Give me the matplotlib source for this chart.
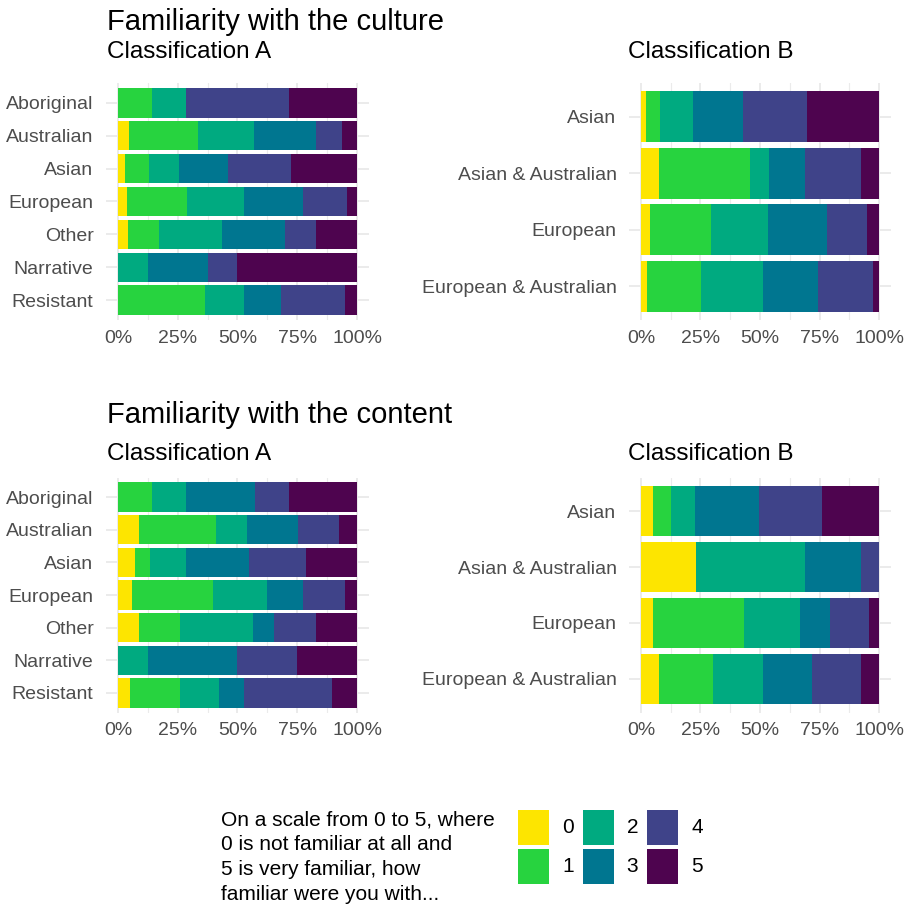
import matplotlib
matplotlib.use("Agg")
import matplotlib.pyplot as plt
from matplotlib.patches import Rectangle
import numpy as np

plt.rcParams['font.family'] = ['Liberation Sans', 'DejaVu Sans']

levels = ['0', '1', '2', '3', '4', '5']
colors = ['#FDE500', '#27D33F', '#00AA80', '#007690', '#3F4389', '#4E044F']

groups_A = ['Aboriginal', 'Australian', 'Asian', 'European', 'Other', 'Narrative', 'Resistant']
groups_B = ['Asian', 'Asian & Australian', 'European', 'European & Australian']

# percent of answers for levels 0..5, one row per group
culture_A = [
    [0.0, 14.3, 14.3, 0.0, 42.9, 28.5],
    [4.5, 28.9, 23.5, 26.0, 10.8, 6.3],
    [2.8, 10.1, 12.6, 20.4, 26.6, 27.5],
    [3.6, 25.1, 24.1, 24.4, 18.5, 4.3],
    [4.3, 12.9, 26.2, 26.3, 13.0, 17.3],
    [0.0, 0.0, 12.5, 25.0, 12.5, 50.0],
    [0.0, 36.6, 16.1, 15.7, 26.5, 5.1],
]
culture_B = [
    [2.0, 6.2, 13.6, 21.0, 27.1, 30.1],
    [7.6, 38.3, 7.7, 15.5, 23.4, 7.5],
    [3.9, 25.7, 23.8, 24.8, 16.6, 5.2],
    [2.5, 22.9, 25.7, 23.1, 23.1, 2.7],
]
content_A = [
    [0.0, 14.3, 14.3, 28.6, 14.3, 28.5],
    [8.7, 32.1, 13.0, 21.4, 17.4, 7.4],
    [7.1, 6.4, 14.8, 26.6, 23.8, 21.3],
    [5.9, 33.8, 22.7, 14.8, 17.9, 4.9],
    [8.7, 17.2, 30.7, 8.7, 17.5, 17.2],
    [0.0, 0.0, 12.5, 37.5, 25.0, 25.0],
    [5.0, 21.1, 16.0, 10.5, 37.0, 10.4],
]
content_B = [
    [5.2, 7.3, 10.3, 26.9, 26.4, 23.9],
    [23.0, 0.0, 46.1, 23.3, 7.6, 0.0],
    [5.2, 37.9, 23.8, 12.4, 16.6, 4.1],
    [7.6, 22.8, 20.8, 20.6, 20.6, 7.6],
]

W, H = 907, 914
fig = plt.figure(figsize=(W / 100, H / 100), dpi=100)


def px_axes(left, top, right, bottom):
    return fig.add_axes([left / W, 1 - bottom / H, (right - left) / W, (bottom - top) / H])


def stacked(ax, groups, data):
    data = np.array(data)
    n = len(groups)
    ypos = np.arange(n, 0, -1)
    left = np.zeros(n)
    for j in range(len(levels)):
        ax.barh(ypos, data[:, j], left=left, height=0.9, color=colors[j], zorder=2)
        left += data[:, j]
    ax.set_xlim(-5, 105)
    ax.set_ylim(0.4, n + 0.6)
    ax.set_yticks(ypos)
    ax.set_yticklabels(groups)
    ax.set_xticks([0, 25, 50, 75, 100])
    ax.set_xticklabels(['0%', '25%', '50%', '75%', '100%'])
    ax.set_xticks([12.5, 37.5, 62.5, 87.5], minor=True)
    ax.grid(True, which='major', color='#EBEBEB', lw=1.4, zorder=0)
    ax.grid(True, which='minor', axis='x', color='#EBEBEB', lw=0.8, zorder=0)
    ax.tick_params(which='both', length=0, labelsize=14, labelcolor='#4D4D4D')
    ax.tick_params(axis='y', pad=9)
    ax.tick_params(axis='x', pad=7)
    for s in ax.spines.values():
        s.set_visible(False)
    ax.set_axisbelow(True)


ax1 = px_axes(106, 83, 369, 320)
stacked(ax1, groups_A, culture_A)
ax2 = px_axes(629, 83, 891, 320)
stacked(ax2, groups_B, culture_B)
ax3 = px_axes(106, 477.5, 369, 712.5)
stacked(ax3, groups_A, content_A)
ax4 = px_axes(629, 477.5, 891, 712.5)
stacked(ax4, groups_B, content_B)

fig.text(107 / W, 1 - 30 / H, 'Familiarity with the culture', fontsize=21, va='baseline')
fig.text(107 / W, 1 - 58 / H, 'Classification A', fontsize=17.5, va='baseline')
fig.text(628 / W, 1 - 58 / H, 'Classification B', fontsize=17.5, va='baseline')
fig.text(107 / W, 1 - 423 / H, 'Familiarity with the content', fontsize=21, va='baseline')
fig.text(107 / W, 1 - 460 / H, 'Classification A', fontsize=17.5, va='baseline')
fig.text(628 / W, 1 - 460 / H, 'Classification B', fontsize=17.5, va='baseline')

# legend
fig.text(221 / W, 1 - 810 / H,
         'On a scale from 0 to 5, where\n0 is not familiar at all and\n5 is very familiar, how\nfamiliar were you with...',
         fontsize=15, va='top', linespacing=1.41)
for j, lab in enumerate(levels):
    col, row = j // 2, j % 2
    kx = 518 + col * 64.5
    ky = 810 + row * 39
    fig.patches.append(Rectangle((kx / W, 1 - (ky + 35) / H), 31 / W, 35 / H,
                                 transform=fig.transFigure, facecolor=colors[j],
                                 edgecolor='none'))
    fig.text((kx + 44) / W, 1 - (ky + 17.5) / H, lab, fontsize=15, va='center')

fig.savefig('out.png', dpi=100)
